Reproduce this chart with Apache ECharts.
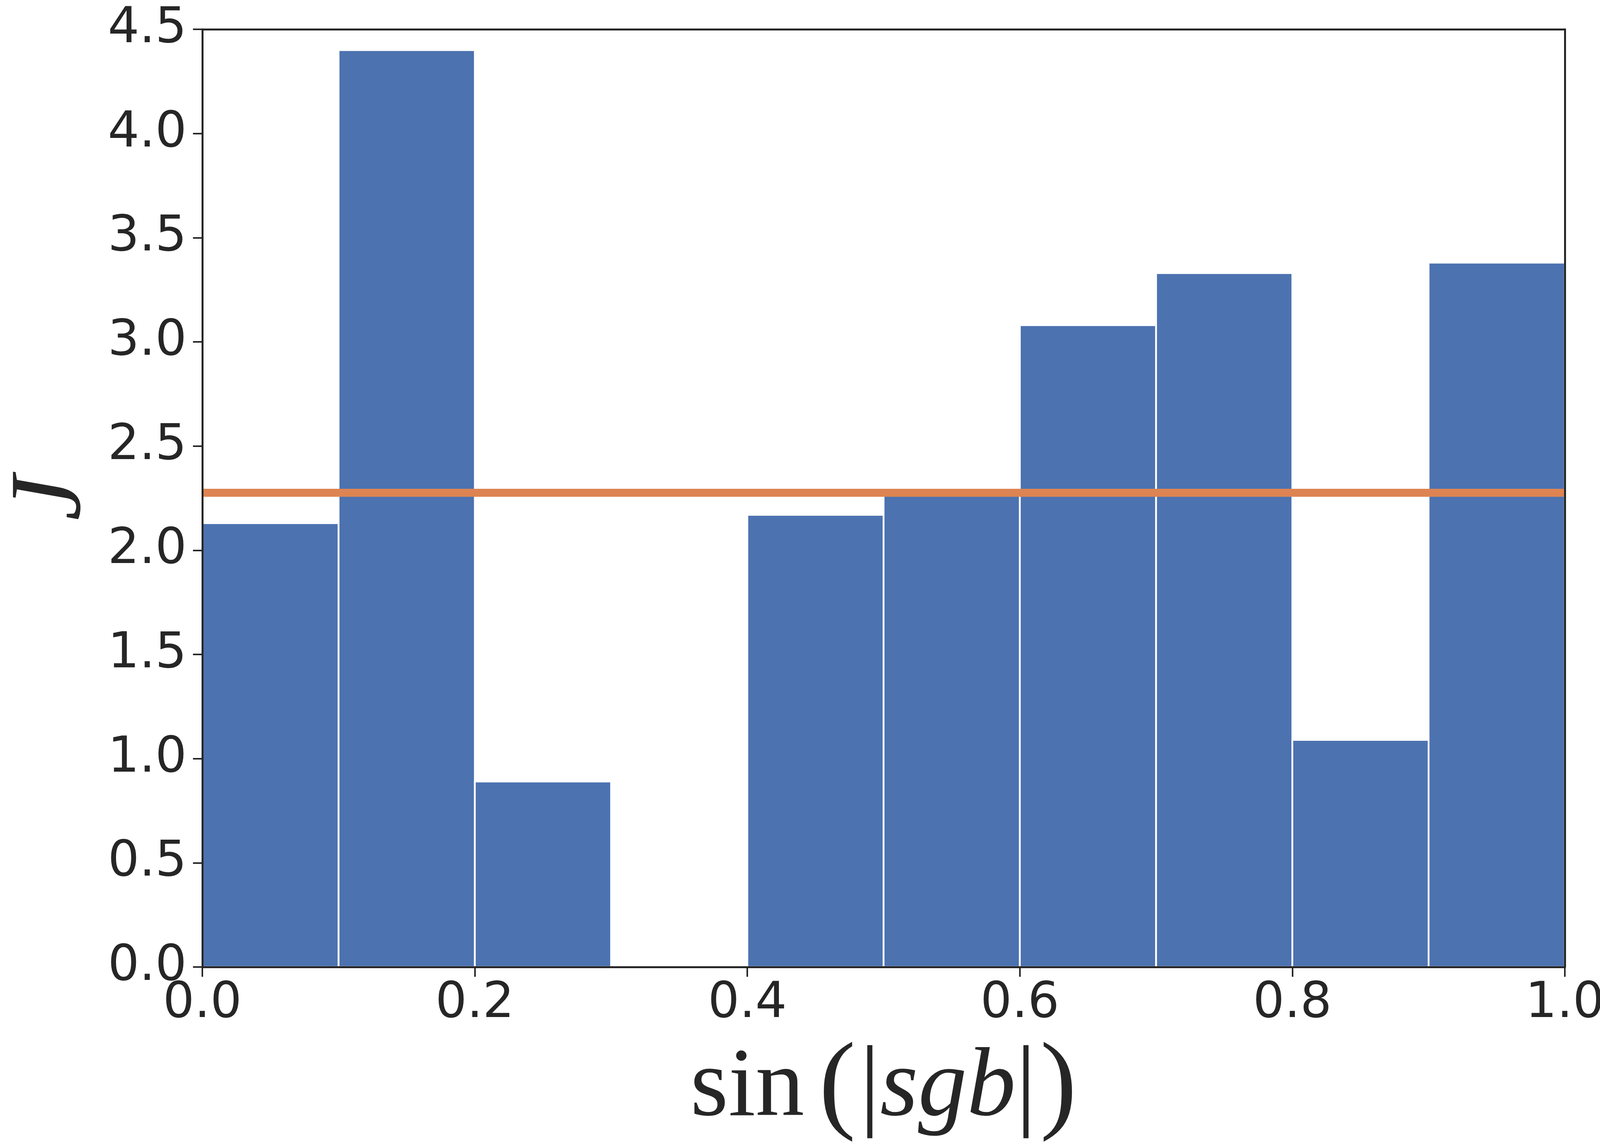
<!DOCTYPE html>
<html>
<head>
<meta charset="utf-8">
<script src="https://cdn.jsdelivr.net/npm/echarts@6/dist/echarts.min.js"></script>
<style>
html,body{margin:0;padding:0;background:#fff;}
#chart{width:4120px;height:2928px;}
</style>
</head>
<body>
<div id="chart"></div>
<script>
// Histogram bins (sin(|sgb|)) and bar heights (J)
const binStarts = [0.0, 0.1, 0.2, 0.3, 0.4, 0.5, 0.6, 0.7, 0.8, 0.9];
const binEnds   = [0.1, 0.2, 0.3, 0.4, 0.5, 0.6, 0.7, 0.8, 0.9, 1.0];
const jValues   = [2.13, 4.40, 0.89, 0.0, 2.17, 2.27, 3.08, 3.33, 1.09, 3.38];
// Mean level drawn as horizontal line
const meanJ = 2.276;
const meanLineX = [0.0, 1.0];
// Tick settings
const xTicks = [0.0, 0.2, 0.4, 0.6, 0.8, 1.0];
const yTicks = [0.0, 0.5, 1.0, 1.5, 2.0, 2.5, 3.0, 3.5, 4.0, 4.5];

const TEXT = '#262626';
const barData = binStarts.map((s, i) => [s, binEnds[i], jValues[i]]);
const lineData = meanLineX.map(x => [x, meanJ]);

const chart = echarts.init(document.getElementById('chart'), null, {renderer: 'canvas'});

const spineAxis = {
  axisLine: {show: true, onZero: false, lineStyle: {color: TEXT, width: 5}},
  axisTick: {show: false},
  axisLabel: {show: false},
  splitLine: {show: false},
  z: 10
};

chart.setOption({
  backgroundColor: '#ffffff',
  animation: false,
  grid: {left: 518, right: 114, top: 75, bottom: 453, containLabel: false, outerBoundsMode: 'none'},
  xAxis: [{
    type: 'value',
    min: xTicks[0], max: xTicks[xTicks.length - 1], interval: 0.2,
    name: '{r|sin}{sp| }{p|(}{sp2| }{b||}{i|sgb}{b||}{sp2| }{p|)}',
    nameLocation: 'middle',
    nameGap: 172,
    nameTextStyle: {
      rich: {
        r: {fontFamily: 'Liberation Serif', fontSize: 250, color: TEXT},
        sp: {fontFamily: 'Liberation Serif', fontSize: 150, color: TEXT},
        sp2: {fontFamily: 'Liberation Serif', fontSize: 40, color: TEXT},
        p: {fontFamily: 'Liberation Serif', fontSize: 282, color: TEXT},
        b: {fontFamily: 'Liberation Serif', fontSize: 262, color: TEXT},
        i: {fontFamily: 'Liberation Serif', fontStyle: 'italic', fontSize: 250, color: TEXT}
      }
    },
    axisLine: {show: true, onZero: false, lineStyle: {color: TEXT, width: 5}},
    axisTick: {show: true, length: 25, lineStyle: {color: TEXT, width: 4}},
    axisLabel: {
      show: true, margin: 32, color: TEXT, fontSize: 127, fontFamily: 'DejaVu Sans',
      formatter: v => v.toFixed(1)
    },
    splitLine: {show: false},
    z: 10
  }, Object.assign({
    type: 'value', position: 'top',
    min: xTicks[0], max: xTicks[xTicks.length - 1], interval: 0.2
  }, spineAxis)],
  yAxis: [{
    type: 'value',
    min: yTicks[0], max: yTicks[yTicks.length - 1], interval: 0.5,
    name: 'J',
    nameLocation: 'middle',
    nameRotate: 90,
    nameGap: 250,
    nameTextStyle: {fontFamily: 'Liberation Serif', fontStyle: 'italic', fontSize: 260, color: TEXT},
    axisLine: {show: true, onZero: false, lineStyle: {color: TEXT, width: 5}},
    axisTick: {show: true, length: 24, lineStyle: {color: TEXT, width: 4}},
    axisLabel: {
      show: true, margin: 40, color: TEXT, fontSize: 127, fontFamily: 'DejaVu Sans',
      formatter: v => v.toFixed(1)
    },
    splitLine: {show: false},
    z: 10
  }, Object.assign({
    type: 'value', position: 'right',
    min: yTicks[0], max: yTicks[yTicks.length - 1], interval: 0.5
  }, spineAxis)],
  series: [{
    type: 'custom',
    xAxisIndex: 0, yAxisIndex: 0,
    data: barData,
    encode: {x: [0, 1], y: 2},
    z: 2,
    renderItem: function (params, api) {
      const x0 = api.value(0), x1 = api.value(1), v = api.value(2);
      if (!(v > 0)) return {type: 'group', children: []};
      const pTop = api.coord([x0, v]);
      const pBot = api.coord([x1, 0]);
      return {
        type: 'rect',
        shape: {x: pTop[0], y: pTop[1], width: pBot[0] - pTop[0], height: pBot[1] - pTop[1]},
        style: {fill: '#4C72B0', stroke: '#ffffff', lineWidth: 4.5}
      };
    }
  }, {
    type: 'line',
    xAxisIndex: 0, yAxisIndex: 0,
    data: lineData,
    symbol: 'none',
    z: 5,
    lineStyle: {color: '#DD8452', width: 20.5, cap: 'butt'}
  }]
});
</script>
</body>
</html>
